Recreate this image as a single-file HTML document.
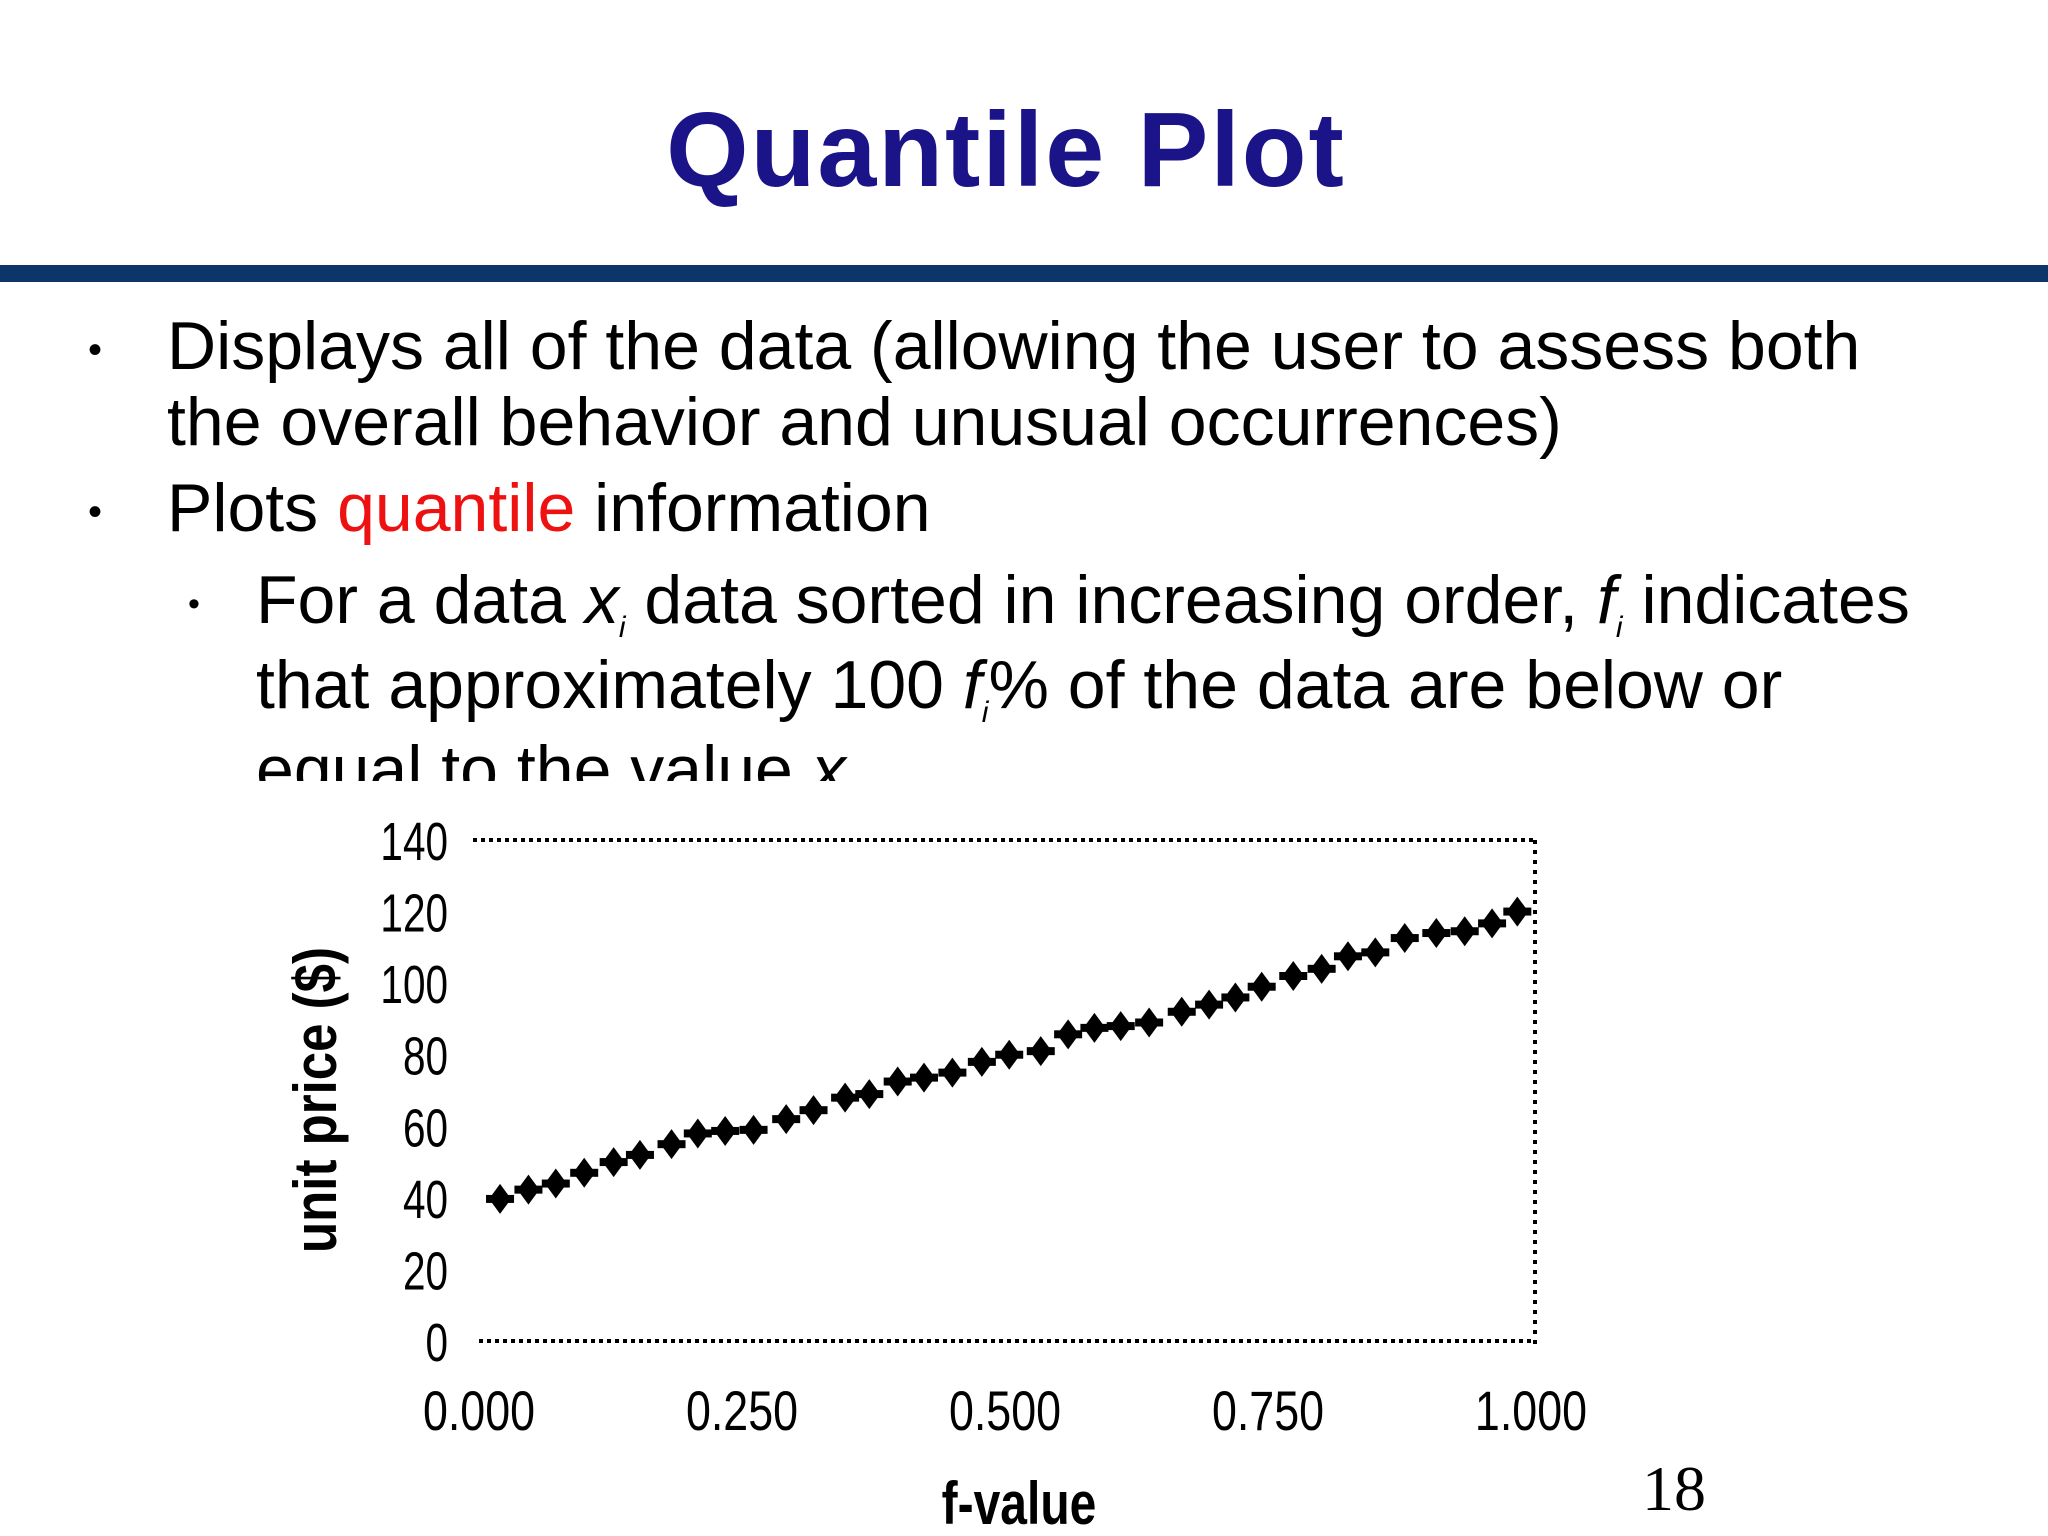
<!DOCTYPE html>
<html><head><meta charset="utf-8"><style>
body{margin:0;width:2048px;height:1536px;background:#fff;position:relative;overflow:hidden;font-family:"Liberation Sans",sans-serif}
.t{position:absolute;white-space:nowrap;color:#000}
.s{font-size:30px;position:relative;top:14px;line-height:0}
</style></head><body>
<div class="t" style="left:0;width:2012px;top:90px;text-align:center;font-size:106px;font-weight:bold;color:#1a1488;letter-spacing:2px">Quantile Plot</div>
<div style="position:absolute;left:0;top:265px;width:2048px;height:17px;background:#0c3569"></div>
<div style="position:absolute;left:0;top:290px;width:2048px;height:491px;overflow:hidden;font-size:68px;line-height:76px">
 <div class="t" style="left:88px;top:22px;font-size:40px">•</div>
 <div class="t" style="left:167px;top:18px">Displays all of the data (allowing the user to assess both<br>the overall behavior and unusual occurrences)</div>
 <div class="t" style="left:88px;top:184px;font-size:40px">•</div>
 <div class="t" style="left:167px;top:180px">Plots <span style="color:#ee1111">quantile</span> information</div>
 <div class="t" style="left:188px;top:276px;font-size:34px">•</div>
 <div class="t" style="left:256px;top:268px;line-height:85px">For a data <i>x<span class="s">i</span></i> data sorted in increasing order, <i>f<span class="s">i</span></i> indicates<br>that approximately 100 <i>f<span class="s">i</span></i>% of the data are below or<br>equal to the value <i>x<span class="s">i</span></i></div>
</div>
<svg id="chart" width="2048" height="1536" style="position:absolute;left:0;top:0" xmlns="http://www.w3.org/2000/svg"></svg>
<div class="t" style="left:1642px;top:1452px;font-family:'Liberation Serif',serif;font-size:64px">18</div>
<script>
const fValues=[0.02,0.047,0.073,0.1,0.128,0.153,0.183,0.208,0.234,0.261,0.292,0.318,0.348,0.371,0.398,0.423,0.45,0.478,0.504,0.534,0.56,0.585,0.61,0.637,0.668,0.694,0.719,0.744,0.774,0.801,0.826,0.852,0.88,0.91,0.937,0.963,0.987];
const prices=[39.7,42.3,44,47,50,52,55,58,58.7,59,62,64.5,68,69,72.5,73.6,75,78,80,81,85.7,87.5,88,89,92,94,96,99,102,104,107.5,108.6,112.6,114,114.5,116.7,120];
const yTicks=[0,20,40,60,80,100,120,140];
const xTicks=["0.000","0.250","0.500","0.750","1.000"];
const xTickVals=[0,0.25,0.5,0.75,1];
const NS="http://www.w3.org/2000/svg";
const svg=document.getElementById('chart');
const X=f=>479+f*(1531-479), Y=v=>1341-v*(1341-840)/140;
function mk(t,a){const e=document.createElementNS(NS,t);for(const k in a)e.setAttribute(k,a[k]);svg.appendChild(e);return e;}
let l;
l=mk('line',{x1:473,y1:Y(140),x2:1535,y2:Y(140),stroke:'#000','stroke-width':4,'stroke-dasharray':'4 4'});

l=mk('line',{x1:1535,y1:Y(140),x2:1535,y2:1345,stroke:'#000','stroke-width':4,'stroke-dasharray':'4 6'});

l=mk('line',{x1:479,y1:Y(0),x2:1535,y2:Y(0),stroke:'#000','stroke-width':4,'stroke-dasharray':'4 4'});

yTicks.forEach(v=>{const t=mk('text',{x:448/0.75,y:Y(v)+20,'text-anchor':'end','font-size':54,'font-family':'Liberation Sans, sans-serif',transform:'scale(0.75,1)'});
t.textContent=v;
});
xTicks.forEach((s,i)=>{const cx=X(xTickVals[i]);const t=mk('text',{x:cx/0.8,y:1430,'text-anchor':'middle','font-size':56,'font-family':'Liberation Sans, sans-serif',transform:'scale(0.8,1)'});
t.textContent=s;});
fValues.forEach((f,i)=>{const cx=X(f),cy=Y(prices[i]);
const g=mk('g',{fill:'#000'});
const a=document.createElementNS(NS,'polygon');a.setAttribute('points',`${cx},${cy-15} ${cx+11},${cy} ${cx},${cy+15} ${cx-11},${cy}`);g.appendChild(a);
const b=document.createElementNS(NS,'rect');b.setAttribute('x',cx-14);b.setAttribute('y',cy-4);b.setAttribute('width',28);b.setAttribute('height',8);g.appendChild(b);});
let t=mk('text',{x:1019/0.8,y:1524,'text-anchor':'middle','font-size':60,'font-weight':'bold','font-family':'Liberation Sans, sans-serif',transform:'scale(0.8,1)'});
t.textContent='f-value';
t=mk('text',{x:0,y:0,'text-anchor':'middle','font-size':60,'font-weight':'bold','font-family':'Liberation Sans, sans-serif',transform:'translate(336,1100) rotate(-90) scale(0.85,1)'});
t.textContent='unit price ($)';
</script>
</body></html>
